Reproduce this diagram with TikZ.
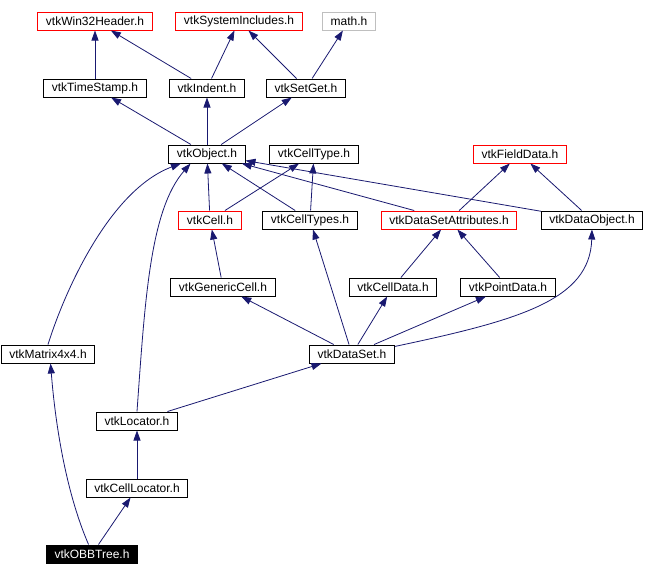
\documentclass[tikz,border=0pt]{standalone}
\usepackage{fontspec}
\setmainfont{Liberation Sans}
\usetikzlibrary{arrows.meta}
\definecolor{edgeblue}{HTML}{191970}
\definecolor{framered}{HTML}{FF0000}
\definecolor{framegray}{HTML}{BFBFBF}
\tikzset{
  hdr/.style={draw=black, line width=1pt, fill=white, inner xsep=8pt,
              inner ysep=0pt, minimum height=18pt,
              font=\fontsize{12pt}{14pt}\selectfont},
  hdrred/.style={hdr, draw=framered},
  hdrgray/.style={hdr, draw=framegray},
  hdrmain/.style={hdr, fill=black, text=white},
  inc/.style={draw=edgeblue, line width=0.8pt,
              -{Triangle[length=10pt,width=7pt]}}
}

\begin{document}
\begin{tikzpicture}[x=1pt, y=-1pt]
      \useasboundingbox (0,0) rectangle (645,576);
      % top level headers
      \node[hdrred] (w32) at (95,21) {vtkWin32Header.h};
      \node[hdrred] (sysinc) at (239,21) {vtkSystemIncludes.h};
      \node[hdrgray] (math) at (349,21) {math.h};
      \node[hdr] (tstamp) at (95,88) {vtkTimeStamp.h};
      \node[hdr] (indent) at (207,88) {vtkIndent.h};
      \node[hdr] (setget) at (306,88) {vtkSetGet.h};
      \node[hdr] (obj) at (207,154) {vtkObject.h};
      \node[hdr] (celltype) at (314,154) {vtkCellType.h};
      \node[hdrred] (fdata) at (520,154) {vtkFieldData.h};
      \node[hdrred] (cell) at (210,220) {vtkCell.h};
      \node[hdr] (celltypes) at (310,220) {vtkCellTypes.h};
      \node[hdrred] (dsa) at (449,220) {vtkDataSetAttributes.h};
      \node[hdr] (dobj) at (592,220) {vtkDataObject.h};
      \node[hdr] (gcell) at (223,287) {vtkGenericCell.h};
      \node[hdr] (cdata) at (393,287) {vtkCellData.h};
      \node[hdr] (pdata) at (508,287) {vtkPointData.h};
      \node[hdr] (mat) at (48,354) {vtkMatrix4x4.h};
      \node[hdr] (ds) at (352,354) {vtkDataSet.h};
      \node[hdr] (loc) at (137,421) {vtkLocator.h};
      \node[hdr] (cloc) at (137,488) {vtkCellLocator.h};
      \node[hdrmain] (obb) at (92,554) {vtkOBBTree.h};
      % include edges
      \draw[inc] (tstamp) -- (w32);
      \draw[inc] (indent) -- (w32);
      \draw[inc] (indent) -- (sysinc);
      \draw[inc] (setget) -- (sysinc);
      \draw[inc] (setget) -- (math);
      \draw[inc] (obj) -- (tstamp);
      \draw[inc] (obj) -- (indent);
      \draw[inc] (obj) -- (setget);
      \draw[inc] (cell) -- (obj);
      \draw[inc] (cell) -- (celltype);
      \draw[inc] (celltypes) -- (obj);
      \draw[inc] (celltypes) -- (celltype);
      \draw[inc] (dsa) -- (obj);
      \draw[inc] (dsa) -- (fdata);
      \draw[inc] (dobj) -- (obj);
      \draw[inc] (dobj) -- (fdata);
      \draw[inc] (mat.north) .. controls (65,290) and (110,190) .. (obj.-160);
      \draw[inc] (loc.north) .. controls (145,300) and (150,210) .. (obj.-150);
      \draw[inc] (gcell) -- (cell);
      \draw[inc] (cdata) -- (dsa);
      \draw[inc] (pdata) -- (dsa);
      \draw[inc] (ds) -- (gcell);
      \draw[inc] (ds) -- (celltypes);
      \draw[inc] (ds) -- (cdata);
      \draw[inc] (ds) -- (pdata);
      \draw[inc] (ds.10) .. controls (520,320) and (590,300) .. (dobj.south);
      \draw[inc] (loc) -- (ds);
      \draw[inc] (cloc) -- (loc);
      \draw[inc] (obb) -- (cloc);
      \draw[inc] (obb.110) .. controls (65,490) and (55,420) .. (mat.-75);
\end{tikzpicture}
\end{document}
